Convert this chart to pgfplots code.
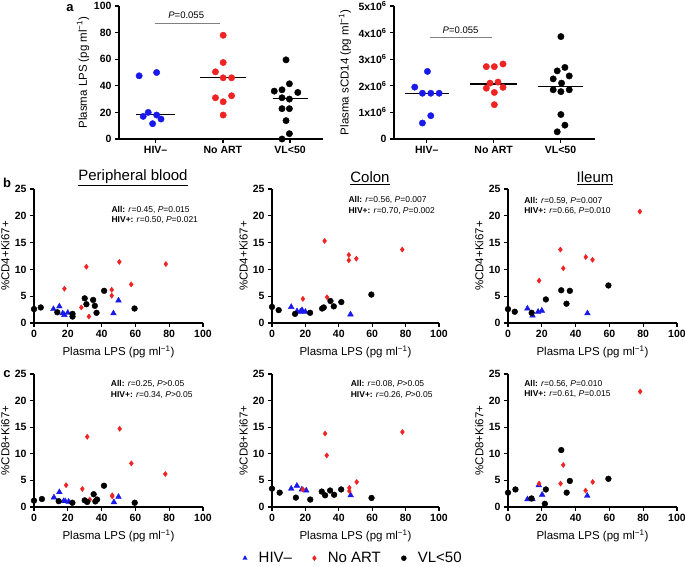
\documentclass[border=0pt]{standalone}
\usepackage{pgfplots}
\pgfplotsset{compat=1.18}
\usepackage{fontspec}
\setmainfont{Liberation Sans}
\definecolor{pblue}{RGB}{25,25,235}
\definecolor{pred}{RGB}{240,35,35}
\newcommand{\fs}[1]{\fontsize{#1}{#1}\selectfont}
\tikzset{ann/.style={anchor=west, inner sep=0pt, font=\fs{8.5}}}
\pgfplotsset{
  base/.style={scale only axis, axis lines=left, axis line style={line width=1.3pt,-},
    tick style={line width=1.3pt, black}, tick align=outside, major tick length=4pt,
    clip=false, ticklabel style={font=\bfseries\fs{10.5}},
    /pgf/number format/assume math mode=true, label style={font=\fs{11.5}}, anchor=south west},
  sc/.style={base, height=134pt, xmin=0,xmax=100,ymin=0,ymax=25,
    xtick={0,20,...,100}, ytick={0,5,...,25},
    xlabel={Plasma LPS (pg ml\textsuperscript{−1})},
    xlabel style={at={(axis description cs:0.5,-0.216)},anchor=center},
    ylabel style={at={(axis description cs:-0.17,0.5)},anchor=center}},
  bl/.style={only marks, mark=triangle*, mark size=3.3pt, color=pblue},
  rd/.style={only marks, mark=diamond*, mark size=2.6pt, color=pred},
  bk/.style={only marks, mark=*, mark size=2.9pt, color=black},
}
\begin{document}
\begin{tikzpicture}
\useasboundingbox (0,0) rectangle (685pt,567pt);
% ---------------- a left
\begin{axis}[base, at={(119pt,428pt)}, width=204pt, height=133pt,
  xmin=0.455, xmax=3.49, ymin=0, ymax=100, xtick={1,2,3},
  xticklabels={HIV–, No ART, VL<50}, ytick={0,20,...,100},
  ylabel={Plasma LPS (pg ml\textsuperscript{−1})},
  ylabel style={at={(axis description cs:-0.176,0.5)},anchor=center}]
\addplot[only marks, mark=*, mark size=3.2pt, color=pblue] coordinates {(0.755,47.5)(1.015,50)(0.89,20)(0.815,17)(1.015,18)(1.08,15)(0.955,11.5)};
\addplot[only marks, mark=*, mark size=3.2pt, color=pred] coordinates {(2.005,78)(2.005,57.5)(1.89,50.5)(2.005,46)(2.13,46)(1.89,31)(2.13,32.5)(2.005,28)(2.005,18)};
\addplot[only marks, mark=*, mark size=3.2pt, color=black] coordinates {(2.94,59.5)(2.99,41.5)(2.765,36)(2.88,37)(3.115,35)(2.88,31)(2.99,30)(2.88,22.8)(2.99,22.8)(2.94,13.8)(2.99,4)(2.88,0)};
\addplot[black, line width=1.3pt] coordinates {(0.715,18.25)(1.29,18.25)};
\addplot[black, line width=1.3pt] coordinates {(1.665,46)(2.34,46)};
\addplot[black, line width=1.3pt] coordinates {(2.74,30.5)(3.265,30.5)};
\addplot[gray, line width=1.1pt] coordinates {(0.99,86.5)(1.965,86.5)};
\node[font=\fs{9.5}] at (axis cs:1.455,93) {\textit{P}=0.055};
\end{axis}
% ---------------- a right
\begin{axis}[base, at={(394pt,428pt)}, width=201pt, height=133pt,
  xmin=0.51, xmax=3.515, ymin=0, ymax=5, xtick={1,2,3},
  xticklabels={HIV–, No ART, VL<50}, ytick={0,1,2,3,4,5},
  yticklabels={0,1x10\textsuperscript{6},2x10\textsuperscript{6},3x10\textsuperscript{6},4x10\textsuperscript{6},5x10\textsuperscript{6}},
  ylabel={Plasma sCD14 (pg ml\textsuperscript{−1})},
  ylabel style={at={(axis description cs:-0.244,0.5)},anchor=center}]
\addplot[only marks, mark=*, mark size=3.2pt, color=pblue] coordinates {(1.01,2.54)(0.82,1.95)(0.935,1.72)(1.06,1.72)(1.185,1.72)(1.06,0.875)(0.935,0.6)};
\addplot[only marks, mark=*, mark size=3.2pt, color=pred] coordinates {(2.14,2.82)(2.01,2.72)(1.89,2.72)(2.065,2.14)(1.945,2.1)(1.89,1.91)(2.14,1.94)(2.01,1.75)(2.01,1.29)};
\addplot[only marks, mark=*, mark size=3.2pt, color=black] coordinates {(3.005,3.85)(3.065,2.69)(2.95,2.56)(3.13,2.37)(2.89,2.26)(3.015,2.1)(2.89,1.85)(3.005,1.78)(3.13,1.85)(3.005,0.92)(3.065,0.52)(2.95,0.27)};
\addplot[black, line width=1.3pt] coordinates {(0.67,1.72)(1.335,1.72)};
\addplot[black, line width=1.3pt] coordinates {(1.65,2.07)(2.35,2.07)};
\addplot[black, line width=1.3pt] coordinates {(2.665,1.98)(3.34,1.98)};
\addplot[gray, line width=1.1pt] coordinates {(1.045,3.83)(1.97,3.83)};
\node[font=\fs{9.5}] at (axis cs:1.505,4.1) {\textit{P}=0.055};
\end{axis}
% ---------------- b left
\begin{axis}[sc, at={(34pt,244pt)}, width=169pt, ylabel={\%CD4+Ki67+}]
\addplot[bl] coordinates {(11.5,2.6)(15,3.1)(17,1.8)(18,1.5)(20,1.9)(47,1.8)(50,4.2)};
\addplot[rd] coordinates {(18,6.4)(31,10.5)(50.5,11.4)(78,11.0)(46,6.2)(46,5.1)(57.5,7.2)(28,2.9)(32.5,1.2)};
\addplot[bk] coordinates {(0,2.6)(4,2.9)(13.8,2.0)(22.8,1.2)(22.8,1.7)(30,4.6)(31,3.5)(35,4.3)(36,3.2)(37,1.9)(41.5,6.0)(59.5,2.7)};
\node[ann] at (axis cs:45.8,21.1) {\textbf{All:} \textit{r}=0.45, \textit{P}=0.015};
\node[ann] at (axis cs:45.8,19.2) {\textbf{HIV+:} \textit{r}=0.50, \textit{P}=0.021};
\end{axis}
% ---------------- b middle
\begin{axis}[sc, at={(272pt,244pt)}, width=167pt, ylabel={\%CD4+Ki67+}]
\addplot[bl] coordinates {(11.5,3.0)(15,2.2)(17,2.1)(18,2.4)(20,2.1)(47,1.6)};
\addplot[rd] coordinates {(31.5,15.3)(46,12.7)(46,11.7)(50.5,12.0)(78,13.7)(18.5,4.5)(33,4.8)};
\addplot[bk] coordinates {(0,3.0)(4,2.4)(13.8,1.7)(22.8,1.9)(30,2.7)(31,2.9)(35,4.1)(37,3.1)(41.5,3.9)(59.5,5.3)};
\node[ann] at (axis cs:45.7,22.9) {\textbf{All:} \textit{r}=0.56, \textit{P}=0.007};
\node[ann] at (axis cs:45.7,20.8) {\textbf{HIV+:} \textit{r}=0.70, \textit{P}=0.002};
\end{axis}
% ---------------- b right
\begin{axis}[sc, at={(508pt,244pt)}, width=169pt, ylabel={\%CD4+Ki67+}]
\addplot[bl] coordinates {(11.5,2.7)(14.5,1.4)(17.8,2.1)(20,2.3)(47,1.8)};
\addplot[rd] coordinates {(31,13.7)(46,12.3)(50,11.8)(78,20.8)(32.7,10.2)(18.4,7.9)};
\addplot[bk] coordinates {(0,2.6)(4,2.1)(14,1.9)(22.4,4.4)(31.5,6.1)(36.6,6.0)(34.6,3.6)(59.4,7.0)};
\node[ann] at (axis cs:9.5,22.8) {\textbf{All:} \textit{r}=0.59, \textit{P}=0.007};
\node[ann] at (axis cs:9.5,20.9) {\textbf{HIV+:} \textit{r}=0.66, \textit{P}=0.010};
\end{axis}
% ---------------- c left
\begin{axis}[sc, at={(34pt,60pt)}, width=169pt, height=133pt, ylabel={\%CD8+Ki67+}]
\addplot[bl] coordinates {(11.8,1.8)(15,2.8)(17.5,1.1)(18.5,1.1)(20.5,1.0)(47.3,0.9)(50,1.9)};
\addplot[rd] coordinates {(19,4.1)(31.5,13.2)(50.7,14.7)(57.6,8.2)(77.7,6.2)(28.6,3.4)(33,1.4)(46.3,2.0)(46.3,2.2)};
\addplot[bk] coordinates {(0,1.2)(4.7,1.5)(14.6,1.1)(22.7,0.8)(30,1.25)(31.5,0.95)(35.3,2.4)(36.3,1.05)(37.3,1.4)(41.4,4.0)(59.6,0.8)};
\node[ann] at (axis cs:45.4,23.1) {\textbf{All:} \textit{r}=0.25, \textit{P}>0.05};
\node[ann] at (axis cs:45.4,21.0) {\textbf{HIV+:} \textit{r}=0.34, \textit{P}>0.05};
\end{axis}
% ---------------- c middle
\begin{axis}[sc, at={(272pt,60pt)}, width=167pt, height=133pt, ylabel={\%CD8+Ki67+},
  legend style={at={(axis description cs:0.485,-0.385)}, anchor=center, draw=none, fill=none,
    inner sep=0pt, nodes={inner sep=1.5pt},
    legend columns=3, font=\fs{15},
    /tikz/every odd column/.append style={column sep=10pt},
    /tikz/every even column/.append style={column sep=19pt}},
  legend image code/.code={\draw[#1, mark size=2.5pt] plot coordinates {(0pt,0pt)};}]
\addplot[bl] coordinates {(11.5,3.45)(14.9,4.0)(17.9,3.3)(20.5,3.1)(47.1,2.2)};
\addplot[rd] coordinates {(31.8,13.8)(32.8,9.7)(78.1,14.1)(50.7,4.7)(46.3,3.6)(46.3,3.0)(18.5,3.3)};
\addplot[bk] coordinates {(0,3.45)(4.6,2.7)(14.3,1.76)(22.9,1.4)(29.8,2.9)(31.8,2.2)(34.8,3.1)(37.2,2.3)(41.4,3.3)(59.6,1.7)};
\legend{HIV–, No ART, VL<50}
\node[ann] at (axis cs:47.1,23.1) {\textbf{All:} \textit{r}=0.08, \textit{P}>0.05};
\node[ann] at (axis cs:47.1,21.0) {\textbf{HIV+:} \textit{r}=0.26, \textit{P}>0.05};
\end{axis}
% ---------------- c right
\begin{axis}[sc, at={(508pt,60pt)}, width=169pt, height=133pt, ylabel={\%CD8+Ki67+}]
\addplot[bl] coordinates {(11.5,1.45)(14.5,1.45)(18.2,4.1)(20.2,2.3)(46.9,2.1)};
\addplot[rd] coordinates {(78.2,21.7)(32.7,7.9)(31.1,4.4)(18.4,4.4)(50.1,4.7)(45.9,3.1)};
\addplot[bk] coordinates {(0,2.7)(4.4,3.3)(13.9,1.6)(22.4,3.3)(21.8,0.6)(31.5,10.7)(36.6,4.9)(34.7,2.7)(59.4,5.3)};
\node[ann] at (axis cs:9.5,23.2) {\textbf{All:} \textit{r}=0.56, \textit{P}=0.010};
\node[ann] at (axis cs:9.5,21.2) {\textbf{HIV+:} \textit{r}=0.61, \textit{P}=0.015};
\end{axis}
% titles and panel letters
\node[font=\fs{15}] at (133pt,389pt) {\underline{Peripheral blood}};
\node[font=\fs{15}] at (370pt,389pt) {\underline{Colon}};
\node[font=\fs{15}] at (595pt,389pt) {\underline{Ileum}};
\node[font=\bfseries\fs{13}] at (70pt,559pt) {a};
\node[font=\bfseries\fs{13}] at (7pt,384pt) {b};
\node[font=\bfseries\fs{13}] at (7pt,193pt) {c};
\end{tikzpicture}
\end{document}
